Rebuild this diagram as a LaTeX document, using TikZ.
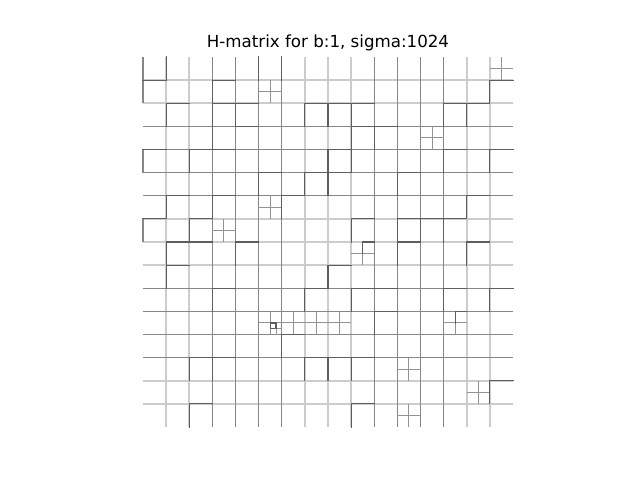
\documentclass[tikz,border=0pt]{standalone}
\usepackage{fontspec}
\setmainfont{DejaVu Sans}
\begin{document}
\begin{tikzpicture}[x=16.65pt,y=-16.65pt,
  paleline/.style={draw=black!20,line width=1.35pt},
  medline/.style={draw=black!47,line width=0.75pt},
  darkline/.style={draw=black!63,line width=0.85pt,line cap=rect},
  subline/.style={draw=black!42,line width=0.65pt},
  titletext/.style={font=\fontsize{12}{14}\selectfont,inner sep=0pt}]
\useasboundingbox (-6.18378,-2.46486) rectangle (21.49189,18.29189);
\fill[white] (-6.18378,-2.46486) rectangle (21.49189,18.29189);
\node[titletext] (title) at (8,-0.60) {H-matrix for b:1, sigma:1024};
% base grid
\foreach \i in {1,2,7,8,9,14,15} \draw[paleline] (\i,0) -- (\i,16);
\foreach \j in {1,2,7,8,9,14,15} \draw[paleline] (0,\j) -- (16,\j);
\foreach \i in {3,4,5,6,10,11,12,13} \draw[medline] (\i,0) -- (\i,16);
\foreach \j in {3,4,5,6,10,11,12,13} \draw[medline] (0,\j) -- (16,\j);
\foreach \r in {0,1,4,7} \draw[medline] (0,\r) -- ++(0,1);
% subdivided cells
\foreach \c/\r in {5/1,5/6,3/7,15/0,12/3,5/11,6/11,7/11,8/11,13/11,11/13,14/14,11/15,9/8}{
  \draw[subline] (\c+0.5,\r) -- (\c+0.5,\r+1);
  \draw[subline] (\c,\r+0.5) -- (\c+1,\r+0.5);
}
\draw[subline] (5.75,11.5) -- (5.75,12);
\draw[subline] (5.5,11.75) -- (6,11.75);
\draw[darkline] (5.5,11.5) rectangle (5.75,11.75);
\draw[darkline] (9.5,8.5) -- (9.5,8) -- (10,8);
\draw[darkline] (13.5,11.5) -- (13.5,11) -- (14,11);
% dark horizontal segments (line j, column c)
\foreach \j/\c in {1/0,1/3,2/1,2/3,2/4,2/7,3/4,4/0,4/2,4/3,5/5,5/7,6/1,6/3,6/6,7/0,7/2,
  1/15,2/8,2/9,2/13,2/14,3/9,3/10,4/8,4/13,4/15,5/8,5/11,6/14,7/9,7/11,7/12,7/13,
  8/1,8/2,8/4,9/1,10/3,10/7,12/6,13/2,13/3,13/7,15/2,
  8/11,8/14,9/8,10/9,10/10,10/13,10/15,11/10,13/8,13/9,14/15,15/9}
  \draw[darkline] (\c,\j) -- ++(1,0);
% dark vertical segments (line i, row r)
\foreach \i/\r in {1/0,5/0,6/0,3/1,1/2,3/2,4/2,7/2,3/3,2/4,5/5,7/5,1/6,3/6,6/6,2/7,
  15/1,8/2,9/2,13/2,14/2,9/3,10/3,8/4,9/4,13/4,15/4,8/5,11/5,14/6,9/7,11/7,12/7,13/7,
  1/8,4/8,1/9,3/10,7/10,6/12,2/13,3/13,7/13,2/15,
  11/8,14/8,8/9,9/10,13/10,15/10,10/11,8/13,9/13,15/14,9/15}
  \draw[darkline] (\i,\r) -- ++(0,1);
\end{tikzpicture}
\end{document}
